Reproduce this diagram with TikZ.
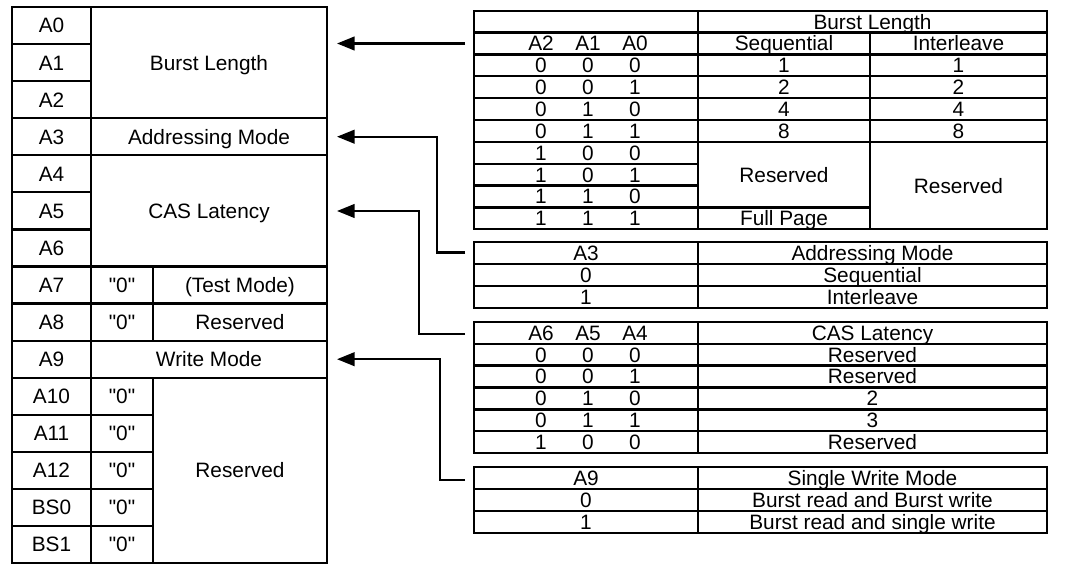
\documentclass[tikz,border=0pt]{standalone}
\usepackage{fontspec}
\setmainfont{Liberation Sans}[Ligatures=TeXOff]
\usetikzlibrary{arrows.meta}

\begin{document}
\begin{tikzpicture}[x=0.025cm, y=-0.025cm,
  txt/.style={inner sep=0pt, text height=10.6pt, text depth=0pt, font=\fontsize{14.8}{17}\selectfont},
  grid/.style={line width=1.6pt, black},
  arr/.style={->, >={Triangle[length=0.44cm,width=0.34cm]}, line width=1.6pt}]
\useasboundingbox (0,0) rectangle (1080,571);

% mode register (left)
\draw[grid] (12,7) rectangle (327,563);
\draw[grid] (91,7) -- (91,563);
\foreach \i in {1,...,14} \draw[grid] (12,{7+37.07*\i}) -- (91,{7+37.07*\i});
\foreach \i in {3,4,7,8,9,10} \draw[grid] (91,{7+37.07*\i}) -- (327,{7+37.07*\i});
\foreach \i in {11,...,14} \draw[grid] (91,{7+37.07*\i}) -- (153,{7+37.07*\i});
\draw[grid] (153,{7+37.07*7}) -- (153,{7+37.07*9});
\draw[grid] (153,{7+37.07*10}) -- (153,563);
\foreach \lab [count=\i from 0] in {A0,A1,A2,A3,A4,A5,A6,A7,A8,A9,A10,A11,A12,BS0,BS1}
  \node[txt] (pin\i) at (51.5,{7+37.07*(\i+0.5)}) {\lab};
\node[txt] (bl) at (209,62.6) {Burst Length};
\node[txt] (am) at (209,136.7) {Addressing Mode};
\node[txt] (cl) at (209,210.9) {CAS Latency};
\node[txt] (zero7) at (122,285) {"0"};
\node[txt] (tm) at (240,285) {(Test Mode)};
\node[txt] (zero8) at (122,322) {"0"};
\node[txt] (rsv8) at (240,322) {Reserved};
\node[txt] (wm) at (209,359.2) {Write Mode};
\foreach \i in {10,...,14}
  \node[txt] (zero\i) at (122,{7+37.07*(\i+0.5)}) {"0"};
\node[txt] (rsv) at (240,470.3) {Reserved};

% burst length table
\draw[grid] (474,10.7) rectangle (1047,229.3);
\draw[grid] (698,10.7) -- (698,229.3);
\draw[grid] (870,32.6) -- (870,229.3);
\foreach \i in {1,...,6} \draw[grid] (474,{10.7+21.86*\i}) -- (1047,{10.7+21.86*\i});
\foreach \i in {7,8} \draw[grid] (474,{10.7+21.86*\i}) -- (698,{10.7+21.86*\i});
\draw[grid] (474,{10.7+21.86*9}) -- (870,{10.7+21.86*9});
\node[txt] (blh) at (872.5,21.6) {Burst Length};
\node[txt] (bla2) at (541,43.5) {A2};
\node[txt] (bla1) at (588,43.5) {A1};
\node[txt] (bla0) at (635,43.5) {A0};
\node[txt] (seq) at (784,43.5) {Sequential};
\node[txt] (ilv) at (958.5,43.5) {Interleave};
\foreach \a/\b/\c [count=\i from 2] in {0/0/0,0/0/1,0/1/0,0/1/1,1/0/0,1/0/1,1/1/0,1/1/1} {
  \node[txt] (b\i a) at (541,{10.7+21.86*(\i+0.5)}) {\a};
  \node[txt] (b\i b) at (588,{10.7+21.86*(\i+0.5)}) {\b};
  \node[txt] (b\i c) at (635,{10.7+21.86*(\i+0.5)}) {\c};
}
\foreach \n [count=\i from 2] in {1,2,4,8} {
  \node[txt] (s\i) at (784,{10.7+21.86*(\i+0.5)}) {\n};
  \node[txt] (l\i) at (958.5,{10.7+21.86*(\i+0.5)}) {\n};
}
\node[txt] (srsv) at (784,174.6) {Reserved};
\node[txt] (fp) at (784,218.3) {Full Page};
\node[txt] (lrsv) at (958.5,185.6) {Reserved};

% addressing mode table
\draw[grid] (474,242.3) rectangle (1047,308.3);
\draw[grid] (698,242.3) -- (698,308.3);
\foreach \i in {1,2} \draw[grid] (474,{242.3+22*\i}) -- (1047,{242.3+22*\i});
\foreach \a/\m [count=\i from 0] in {A3/Addressing Mode,0/Sequential,1/Interleave} {
  \node[txt] (ma\i) at (586,{242.3+22*(\i+0.5)}) {\a};
  \node[txt] (mm\i) at (872.5,{242.3+22*(\i+0.5)}) {\m};
}

% cas latency table
\draw[grid] (474,321.7) rectangle (1047,453.3);
\draw[grid] (698,321.7) -- (698,453.3);
\foreach \i in {1,...,5} \draw[grid] (474,{321.7+21.93*\i}) -- (1047,{321.7+21.93*\i});
\foreach \a/\b/\c/\m [count=\i from 0] in {A6/A5/A4/CAS Latency,0/0/0/Reserved,0/0/1/Reserved,0/1/0/2,0/1/1/3,1/0/0/Reserved} {
  \node[txt] (c\i a) at (541,{321.7+21.93*(\i+0.5)}) {\a};
  \node[txt] (c\i b) at (588,{321.7+21.93*(\i+0.5)}) {\b};
  \node[txt] (c\i c) at (635,{321.7+21.93*(\i+0.5)}) {\c};
  \node[txt] (c\i m) at (872.5,{321.7+21.93*(\i+0.5)}) {\m};
}

% write mode table
\draw[grid] (474,467) rectangle (1047,533);
\draw[grid] (698,467) -- (698,533);
\foreach \i in {1,2} \draw[grid] (474,{467+22*\i}) -- (1047,{467+22*\i});
\foreach \a/\m [count=\i from 0] in {A9/Single Write Mode,0/Burst read and Burst write,1/Burst read and single write} {
  \node[txt] (wa\i) at (586,{467+22*(\i+0.5)}) {\a};
  \node[txt] (wt\i) at (872.5,{467+22*(\i+0.5)}) {\m};
}

% links
\coordinate (bl-in) at (337,43.5);
\coordinate (bl-out) at (465,43.5);
\coordinate (am-in) at (337,136.7);
\coordinate (am-out) at (465,252.5);
\coordinate (cl-in) at (337,211);
\coordinate (cl-out) at (465,334);
\coordinate (wm-in) at (337,359.2);
\coordinate (wm-out) at (465,480);
\draw[arr] (bl-out) -- (bl-in);
\draw[arr] (am-out) -- ++(-28,0) |- (am-in);
\draw[arr] (cl-out) -- ++(-46,0) |- (cl-in);
\draw[arr] (wm-out) -- ++(-25,0) |- (wm-in);
\end{tikzpicture}
\end{document}
